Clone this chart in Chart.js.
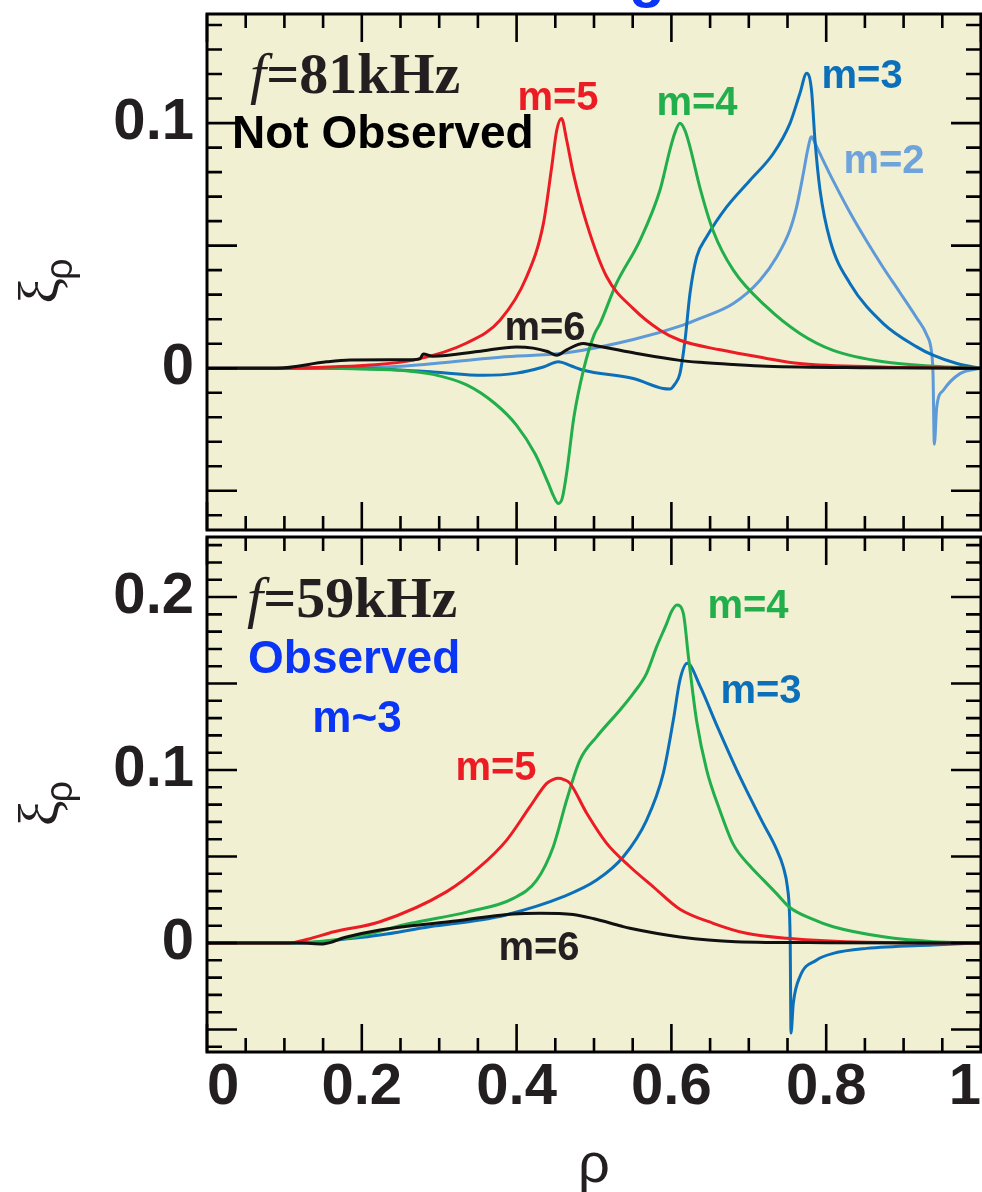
<!DOCTYPE html>
<html>
<head>
<meta charset="utf-8">
<title>Radial displacement profiles</title>
<script src="https://cdn.jsdelivr.net/npm/chart.js@4.4.1/dist/chart.umd.min.js"></script>
<style>
  html, body { margin: 0; padding: 0; background: #fff; }
  #wrap { position: relative; width: 982px; height: 1192px; overflow: hidden; }
  #wrap canvas { position: absolute; left: 0; }
  #topChart { top: 0; }
  #botChart { top: 535px; }
</style>
</head>
<body>
<div id="wrap">
  <canvas id="topChart" width="982" height="535"></canvas>
  <canvas id="botChart" width="982" height="657"></canvas>
</div>
<script>
// ---- f = 81 kHz (upper panel) ----
const rho81_m6 = [0, 0.09, 0.1546, 0.1848, 0.2666, 0.275, 0.2795, 0.292, 0.35, 0.40, 0.4216, 0.44, 0.4518, 0.4647, 0.4862, 0.4906, 0.5508, 0.611, 0.637, 0.68, 0.723, 0.85, 1];
const xi81_m6  = [0, 0, 0.0026, 0.0033, 0.0035, 0.0038, 0.0058, 0.0049, 0.0068, 0.0087, 0.0082, 0.0068, 0.0053, 0.0075, 0.0101, 0.0099, 0.0063, 0.0032, 0.0024, 0.0015, 0.0008, 0.0002, 0];

const rho81_m5 = [0, 0.09, 0.15, 0.206, 0.2666, 0.3355, 0.3786, 0.413, 0.4346, 0.4453, 0.4518, 0.458, 0.4647, 0.4733, 0.4906, 0.5164, 0.5508, 0.5853, 0.611, 0.663, 0.72, 0.766, 0.873, 1];
const xi81_m5  = [0, 0, 0.0004, 0.0012, 0.0033, 0.0103, 0.0196, 0.0373, 0.059, 0.082, 0.097, 0.1019, 0.093, 0.0795, 0.059, 0.0373, 0.0243, 0.0155, 0.0114, 0.0075, 0.0042, 0.0019, 0.0005, 0];

const rho81_m4 = [0, 0.15, 0.206, 0.25, 0.292, 0.3355, 0.372, 0.40, 0.424, 0.441, 0.4475, 0.454, 0.459, 0.465, 0.474, 0.487, 0.5, 0.5078, 0.529, 0.5594, 0.5853, 0.598, 0.6045, 0.611, 0.6175, 0.624, 0.637, 0.654, 0.68, 0.723, 0.766, 0.809, 0.874, 0.938, 1];
const xi81_m4  = [0, 0, -0.0003, -0.0008, -0.0025, -0.0068, -0.0144, -0.0233, -0.035, -0.047, -0.052, -0.0552, -0.053, -0.042, -0.02, 0, 0.0135, 0.0182, 0.0346, 0.0522, 0.0727, 0.089, 0.096, 0.0999, 0.097, 0.0903, 0.0735, 0.056, 0.04, 0.025, 0.0142, 0.0073, 0.0026, 0.0008, 0];

const rho81_m3 = [0, 0.15, 0.22, 0.292, 0.357, 0.40, 0.4346, 0.454, 0.47, 0.4862, 0.5508, 0.5895, 0.598, 0.6045, 0.611, 0.6176, 0.624, 0.6327, 0.6456, 0.6714, 0.7016, 0.7317, 0.7532, 0.766, 0.7748, 0.781, 0.7855, 0.792, 0.805, 0.8307, 0.8738, 0.917, 0.938, 0.97, 1];
const xi81_m3  = [0, 0, -0.0003, -0.0015, -0.0029, -0.002, 0.0005, 0.0026, 0.001, -0.0008, -0.0042, -0.0083, -0.0085, -0.0065, -0.0022, 0.0114, 0.0305, 0.0454, 0.0536, 0.0658, 0.0767, 0.0876, 0.0999, 0.1121, 0.1203, 0.1135, 0.093, 0.0727, 0.0522, 0.0346, 0.0182, 0.0087, 0.0053, 0.0018, 0];

const rho81_m2 = [0, 0.1, 0.206, 0.25, 0.3786, 0.4647, 0.5508, 0.615, 0.637, 0.68, 0.7145, 0.736, 0.753, 0.7618, 0.7705, 0.776, 0.781, 0.786, 0.792, 0.809, 0.8307, 0.852, 0.8738, 0.895, 0.917, 0.93, 0.9363, 0.938, 0.9397, 0.9428, 0.9513, 0.9729, 1];
const xi81_m2  = [0, 0, 0.0004, 0.0008, 0.0045, 0.0063, 0.0117, 0.0176, 0.0203, 0.0264, 0.0359, 0.0454, 0.0563, 0.0658, 0.0795, 0.089, 0.0944, 0.0915, 0.0875, 0.0765, 0.0635, 0.052, 0.041, 0.031, 0.0205, 0.0135, 0.006, -0.0022, -0.031, -0.0158, -0.009, -0.0022, 0];

// ---- f = 59 kHz (lower panel) ----
const rho59_m6 = [0, 0.12, 0.15, 0.179, 0.2235, 0.3124, 0.3958, 0.43, 0.473, 0.5, 0.5349, 0.5465, 0.611, 0.683, 0.8, 1];
const xi59_m6  = [0, 0, -0.0005, 0.0033, 0.0075, 0.0123, 0.0168, 0.0172, 0.0165, 0.014, 0.0098, 0.0085, 0.0035, 0.0008, 0.0002, 0];

const rho59_m5 = [0, 0.105, 0.13, 0.164, 0.2235, 0.3097, 0.3527, 0.3872, 0.4173, 0.4389, 0.447, 0.4539, 0.461, 0.469, 0.4906, 0.5164, 0.5465, 0.5766, 0.611, 0.654, 0.697, 0.749, 0.852, 1];
const xi59_m5  = [0, 0, 0.0022, 0.0065, 0.0123, 0.0297, 0.0441, 0.0595, 0.0788, 0.0923, 0.0945, 0.0952, 0.0945, 0.0923, 0.075, 0.0576, 0.0441, 0.0325, 0.0195, 0.0114, 0.0056, 0.0027, 0.0004, 0];

const rho59_m4 = [0, 0.105, 0.1886, 0.263, 0.337, 0.3958, 0.426, 0.4474, 0.4647, 0.4819, 0.5034, 0.5336, 0.5508, 0.568, 0.581, 0.594, 0.6, 0.607, 0.6154, 0.622, 0.6327, 0.6456, 0.6628, 0.68, 0.7016, 0.7187, 0.735, 0.753, 0.78, 0.809, 0.874, 0.938, 1];
const xi59_m4  = [0, 0, 0.0033, 0.0114, 0.018, 0.0258, 0.0364, 0.0557, 0.0827, 0.1058, 0.1192, 0.1347, 0.1443, 0.1559, 0.1713, 0.1848, 0.1915, 0.1954, 0.1906, 0.1655, 0.128, 0.1, 0.0765, 0.057, 0.0445, 0.0365, 0.029, 0.0205, 0.0142, 0.0094, 0.0036, 0.0008, 0];

const rho59_m3 = [0, 0.12, 0.1886, 0.2235, 0.2876, 0.3527, 0.386, 0.4604, 0.5034, 0.5379, 0.568, 0.5895, 0.6025, 0.611, 0.6206, 0.637, 0.6585, 0.6886, 0.7187, 0.735, 0.7445, 0.75, 0.7525, 0.7535, 0.7545, 0.7575, 0.766, 0.7877, 0.809, 0.852, 0.938, 1];
const xi59_m3  = [0, 0, 0.0027, 0.0046, 0.0094, 0.0133, 0.0162, 0.0268, 0.0364, 0.0499, 0.0711, 0.0981, 0.1289, 0.152, 0.1617, 0.1485, 0.126, 0.096, 0.069, 0.055, 0.044, 0.032, 0.018, 0, -0.052, -0.0349, -0.0195, -0.0098, -0.006, -0.0031, -0.0011, 0];

// axis ranges and labelled ticks
const RHO_MIN = 0, RHO_MAX = 1;
const Y81_MIN = -0.066, Y81_MAX = 0.1445;
const Y59_MIN = -0.063, Y59_MAX = 0.2347;
const Y81_LABELS = [0, 0.1];
const Y59_LABELS = [0, 0.1, 0.2];

// colours / fonts
const INK = '#231F20';
const RED = '#EC1C24', GREEN = '#22AE4B', BLUE = '#0B70B9', SKY = '#5E9AD8', BLACK = '#111111', BRIGHT = '#0A35F5';
const PANEL_BG = '#F2F0D3';
const SANS = '"Liberation Sans", Arial, Helvetica, sans-serif';
const SERIF = '"Liberation Serif", "Times New Roman", serif';
const M_FONT = `bold 40px ${SANS}`;
const F_ITAL = `italic 58px ${SERIF}`;
const F_BOLD = `bold 58px ${SERIF}`;

// text placed inside the panels (data coordinates)
const notes81 = [
  { parts: [['f', F_ITAL], ['=81kHz', F_BOLD]], rho: 0.0556, xi: 0.1122, align: 'left', color: INK },
  { text: 'Not Observed', font: `bold 46px ${SANS}`, rho: 0.0323, xi: 0.0898, align: 'left', color: '#000' },
  { text: 'm=5', rho: 0.4535, xi: 0.1053, color: RED },
  { text: 'm=4', rho: 0.6331, xi: 0.1033, color: GREEN },
  { text: 'm=3', rho: 0.8463, xi: 0.1143, color: BLUE },
  { text: 'm=2', rho: 0.8747, xi: 0.0796, color: '#6FA3DC' },
  { text: 'm=6', rho: 0.4367, xi: 0.0114, color: INK },
  { text: 'g', font: `bold 58px ${SANS}`, rho: 0.5685, xi: 0.1518, color: BRIGHT }
];
const notes59 = [
  { parts: [['f', F_ITAL], ['=59kHz', F_BOLD]], rho: 0.0517, xi: 0.1884, align: 'left', color: INK },
  { text: 'Observed', font: `bold 46px ${SANS}`, rho: 0.053, xi: 0.1561, align: 'left', color: BRIGHT },
  { text: 'm~3', font: `bold 44px ${SANS}`, rho: 0.1938, xi: 0.122, color: BRIGHT },
  { text: 'm=4', rho: 0.699, xi: 0.1879, color: GREEN },
  { text: 'm=3', rho: 0.7158, xi: 0.1387, color: BLUE },
  { text: 'm=5', rho: 0.3734, xi: 0.0942, color: RED },
  { text: 'm=6', rho: 0.4289, xi: -0.0098, color: INK }
];

function pts(rho, xi) { return rho.map((r, i) => ({ x: r, y: xi[i] })); }
function curve(label, rho, xi, color) {
  return { label, data: pts(rho, xi), borderColor: color, borderWidth: 3, pointRadius: 0,
           fill: false, cubicInterpolationMode: 'monotone' };
}
// tick labels must not push the plot area around
function noOverhang(sc) { sc.paddingTop = 0; sc.paddingBottom = 0; sc.paddingLeft = 0; sc.paddingRight = 0; }

// draws the panel background, inward ticks, frame, labels and the ξρ axis title
const panelDecor = {
  id: 'panelDecor',
  beforeDatasetsDraw(chart) {
    const { ctx, chartArea: a } = chart;
    ctx.save();
    ctx.fillStyle = PANEL_BG;
    ctx.fillRect(a.left, a.top, a.width, a.height);
    ctx.restore();
  },
  afterDatasetsDraw(chart) {
    const { ctx, chartArea: a, scales } = chart;
    const sx = scales.x, sy = scales.y;
    ctx.save();
    ctx.strokeStyle = '#000';
    ctx.lineWidth = 2.6;
    ctx.beginPath();
    for (let k = 0; k <= 20; k++) {
      const px = sx.getPixelForValue(k * 0.05);
      const len = k % 4 === 0 ? 28 : 14;
      ctx.moveTo(px, a.top); ctx.lineTo(px, a.top + len);
      ctx.moveTo(px, a.bottom); ctx.lineTo(px, a.bottom - len);
    }
    for (let k = Math.ceil(sy.min * 100); k <= Math.floor(sy.max * 100); k++) {
      const py = sy.getPixelForValue(k / 100);
      const len = k % 5 === 0 ? 30 : 15;
      ctx.moveTo(a.left, py); ctx.lineTo(a.left + len, py);
      ctx.moveTo(a.right, py); ctx.lineTo(a.right - len, py);
    }
    ctx.stroke();
    ctx.lineWidth = 3;
    ctx.strokeRect(a.left, a.top, a.width, a.height);
    ctx.restore();
  },
  afterDraw(chart, args, opts) {
    const { ctx, chartArea: a, scales } = chart;
    ctx.save();
    ctx.textBaseline = 'alphabetic';
    (opts.notes || []).forEach(n => {
      const px = scales.x.getPixelForValue(n.rho), py = scales.y.getPixelForValue(n.xi);
      const parts = n.parts || [[n.text, n.font || M_FONT]];
      let w = 0;
      parts.forEach(([t, f]) => { ctx.font = f; w += ctx.measureText(t).width; });
      let cx = n.align === 'left' ? px : px - w / 2;
      ctx.fillStyle = n.color;
      ctx.textAlign = 'left';
      parts.forEach(([t, f]) => { ctx.font = f; ctx.fillText(t, cx, py); cx += ctx.measureText(t).width; });
    });

    // y title: xi with rho subscript, rotated
    const cy = (a.top + a.bottom) / 2 + 8;
    ctx.translate(46, cy);
    ctx.rotate(-Math.PI / 2);
    ctx.fillStyle = INK;
    ctx.font = `58px ${SERIF}`;
    const w1 = ctx.measureText('ξ').width;
    ctx.font = `38px ${SANS}`;
    const w2 = ctx.measureText('ρ').width;
    const x0 = -(w1 + w2) / 2;
    ctx.font = `58px ${SERIF}`;
    ctx.fillText('ξ', x0, 12);
    ctx.font = `38px ${SANS}`;
    ctx.fillText('ρ', x0 + w1 - 2, 26);
    ctx.restore();
  }
};

function yAxis(min, max, labels) {
  return {
    type: 'linear', min, max,
    afterBuildTicks: sc => { sc.ticks = labels.map(v => ({ value: v })); },
    afterFit: sc => { sc.width = 207; noOverhang(sc); },
    grid: { display: false, drawTicks: false },
    border: { display: false },
    ticks: { padding: 13, color: INK, font: { family: SANS, size: 58, weight: 'bold' }, callback: v => String(v) }
  };
}

function makePanel(id, datasets, yScale, xScale, padding, notes) {
  return new Chart(document.getElementById(id), {
    type: 'line',
    data: { datasets },
    options: {
      responsive: false, animation: false, devicePixelRatio: 1, events: [],
      layout: { padding },
      plugins: { legend: { display: false }, tooltip: { enabled: false }, panelDecor: { notes } },
      scales: { x: xScale, y: yScale }
    },
    plugins: [panelDecor]
  });
}

// upper panel: 81 kHz
makePanel('topChart', [
  curve('m=6', rho81_m6, xi81_m6, BLACK),
  curve('m=5', rho81_m5, xi81_m5, RED),
  curve('m=4', rho81_m4, xi81_m4, GREEN),
  curve('m=3', rho81_m3, xi81_m3, BLUE),
  curve('m=2', rho81_m2, xi81_m2, SKY)
], yAxis(Y81_MIN, Y81_MAX, Y81_LABELS),
  { type: 'linear', min: RHO_MIN, max: RHO_MAX, display: false },
  { top: 14, right: 1, bottom: 5, left: 0 }, notes81);

// lower panel: 59 kHz, carries the shared rho axis
makePanel('botChart', [
  curve('m=6', rho59_m6, xi59_m6, BLACK),
  curve('m=5', rho59_m5, xi59_m5, RED),
  curve('m=4', rho59_m4, xi59_m4, GREEN),
  curve('m=3', rho59_m3, xi59_m3, BLUE)
], yAxis(Y59_MIN, Y59_MAX, Y59_LABELS),
  {
    type: 'linear', min: RHO_MIN, max: RHO_MAX,
    afterFit: sc => { sc.height = 140; noOverhang(sc); },
    grid: { display: false, drawTicks: false },
    border: { display: false },
    ticks: { stepSize: 0.2, align: 'inner', maxRotation: 0, autoSkip: false, padding: 1,
             color: INK, font: { family: SANS, size: 58, weight: 'bold' },
             callback: v => String(+v.toFixed(2)) },
    title: { display: true, text: 'ρ', color: INK, font: { family: SANS, size: 56 }, padding: { top: 0, bottom: -8 } }
  },
  { top: 2, right: 1, bottom: 0, left: 0 }, notes59);
</script>
</body>
</html>
